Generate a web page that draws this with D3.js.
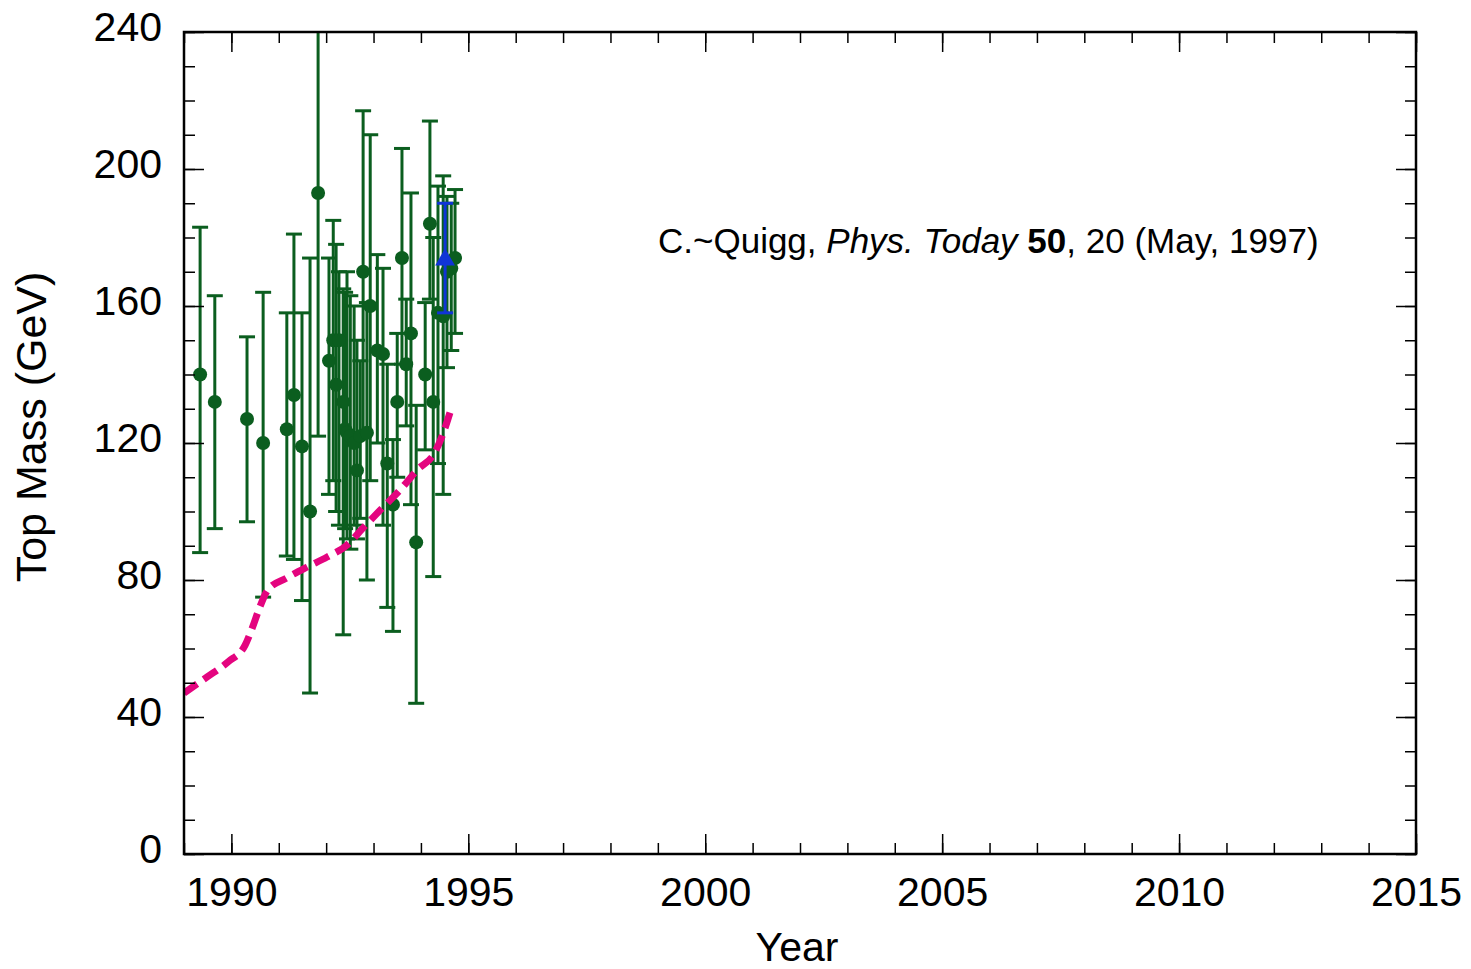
<!DOCTYPE html>
<html>
<head>
<meta charset="utf-8">
<script src="https://cdn.jsdelivr.net/npm/d3@7"></script>
<style>
  html, body { margin: 0; padding: 0; background: #fff; }
  svg { display: block; font-family: "Liberation Sans", Arial, Helvetica, sans-serif; }
</style>
</head>
<body>
<svg id="chart" width="1471" height="969"></svg>
<script>
// ---- data ----
const years  = [1989.34, 1989.65, 1990.33, 1990.67, 1991.17, 1991.32, 1991.49, 1991.66, 1991.83, 1992.06,
                1992.15, 1992.21, 1992.27, 1992.36, 1992.40, 1992.44, 1992.51, 1992.59, 1992.65, 1992.72,
                1992.78, 1992.86, 1992.93, 1993.08, 1993.20, 1993.29, 1993.41, 1993.50, 1993.60, 1993.69,
                1993.79, 1993.90, 1994.09, 1994.19, 1994.26, 1994.36, 1994.47, 1994.55, 1994.64, 1994.72];
const masses = [140, 132, 127, 120, 124, 134, 119, 100, 193, 144,
                150, 137, 150, 132, 124, 123, 122, 120, 112, 122,
                170, 123, 160, 147, 146, 114, 102, 132, 174, 143,
                152, 91, 140, 184, 132, 158, 157, 170, 171, 174];
const lows   = [88, 95, 97, 75, 87, 86, 74, 47, 122, 105,
                109, 100, 96, 64, 95, 92, 89, 96, 92, 98,
                123, 80, 109, 120, 96, 72, 65, 110, 143, 125,
                102, 44, 118, 162, 81, 114, 105, 142, 147, 152];
const highs  = [183, 163, 151, 164, 158, 181, 158, 174, 250, 174,
                185, 178, 170, 165, 164, 170, 163, 160, 150, 144,
                217, 161, 210, 175, 171, 143, 121, 152, 206, 162,
                193, 131, 161, 214, 180, 195, 198, 192, 190, 194];

// Tevatron measurement (blue)
const tevYear = [1994.51];
const tevMass = [173.5];
const tevLow  = [158];
const tevHigh = [190];

// indirect lower bound curve (magenta dashed)
const boundYears = [1989.0, 1989.49, 1989.93, 1990.29, 1990.44, 1990.60, 1990.77, 1991.17, 1991.60,
                    1992.02, 1992.44, 1992.78, 1993.14, 1993.56, 1993.92, 1994.30, 1994.47, 1994.66];
const boundMass  = [47.0, 51.7, 56.1, 61.0, 66.0, 72.1, 77.1, 80.6, 83.8,
                    86.7, 90.2, 95.2, 100.4, 106.3, 112.1, 117.4, 122.9, 131];

const xMajorTicks = [1990, 1995, 2000, 2005, 2010, 2015];
const yMajorTicks = [0, 40, 80, 120, 160, 200, 240];

// ---- layout ----
const L = 184, R = 1416, T = 32, B = 854;
const svg = d3.select("#chart");
const x = d3.scaleLinear().domain([1989, 2015]).range([L, R]);
const y = d3.scaleLinear().domain([0, 240]).range([B, T]);

const green = "#0b5e1f", magenta = "#e4047f", blue = "#1034d6";

svg.append("defs").append("clipPath").attr("id", "clip")
  .append("rect").attr("x", L).attr("y", T).attr("width", R - L).attr("height", B - T);

const plot = svg.append("g").attr("clip-path", "url(#clip)");

// green error bars
const pts = years.map((yr, i) => ({yr, m: masses[i], lo: lows[i], hi: highs[i]}));
const eb = plot.append("g").attr("stroke", green).attr("stroke-width", 3);
pts.forEach(d => {
  eb.append("line").attr("x1", x(d.yr)).attr("x2", x(d.yr)).attr("y1", y(d.lo)).attr("y2", y(d.hi));
  eb.append("line").attr("x1", x(d.yr) - 8).attr("x2", x(d.yr) + 8).attr("y1", y(d.lo)).attr("y2", y(d.lo));
  eb.append("line").attr("x1", x(d.yr) - 8).attr("x2", x(d.yr) + 8).attr("y1", y(d.hi)).attr("y2", y(d.hi));
});
plot.append("g").selectAll("circle").data(pts).join("circle")
  .attr("cx", d => x(d.yr)).attr("cy", d => y(d.m)).attr("r", 7).attr("fill", green);

// magenta dashed bound
const line = d3.line().x(d => x(d[0])).y(d => y(d[1])).curve(d3.curveMonotoneX);
plot.append("path").datum(boundYears.map((yr, i) => [yr, boundMass[i]]))
  .attr("d", line).attr("fill", "none").attr("stroke", magenta)
  .attr("stroke-width", 7).attr("stroke-dasharray", "16,8");

// blue measurement
const tb = plot.append("g").attr("stroke", blue).attr("stroke-width", 3);
tevYear.forEach((yr, i) => {
  tb.append("line").attr("x1", x(yr)).attr("x2", x(yr)).attr("y1", y(tevLow[i])).attr("y2", y(tevHigh[i]));
  tb.append("line").attr("x1", x(yr) - 8).attr("x2", x(yr) + 8).attr("y1", y(tevLow[i])).attr("y2", y(tevLow[i]));
  tb.append("line").attr("x1", x(yr) - 8).attr("x2", x(yr) + 8).attr("y1", y(tevHigh[i])).attr("y2", y(tevHigh[i]));
  plot.append("path").attr("d", d3.symbol(d3.symbolTriangle, 170)())
    .attr("transform", `translate(${x(yr)},${y(tevMass[i])})`).attr("fill", blue);
});

// ---- axes (inward ticks on all sides) ----
const xMinor = d3.range(1989, 2016, 1);
const yMinor = d3.range(0, 241, 10);
function styleAxis(g) {
  g.select(".domain").remove();
  g.selectAll(".tick line").attr("stroke", "#000").attr("stroke-width", 1.5);
}
const labelFont = g => g.selectAll("text").attr("font-size", 41).attr("fill", "#000")
      .attr("font-family", "'Liberation Sans', Arial, sans-serif");
svg.append("g").attr("transform", `translate(0,${B})`)
  .call(d3.axisBottom(x).tickValues(xMinor).tickSize(-11).tickFormat(""))
  .call(styleAxis);
svg.append("g").attr("transform", `translate(0,${B})`)
  .call(d3.axisBottom(x).tickValues(xMajorTicks).tickSize(-20).tickPadding(23).tickFormat(d3.format("d")))
  .call(styleAxis).call(labelFont);
svg.append("g").attr("transform", `translate(0,${T})`)
  .call(d3.axisTop(x).tickValues(xMinor).tickSize(-11).tickFormat("")).call(styleAxis);
svg.append("g").attr("transform", `translate(0,${T})`)
  .call(d3.axisTop(x).tickValues(xMajorTicks).tickSize(-20).tickFormat("")).call(styleAxis);

svg.append("g").attr("transform", `translate(${L},0)`)
  .call(d3.axisLeft(y).tickValues(yMinor).tickSize(-11).tickFormat("")).call(styleAxis);
svg.append("g").attr("transform", `translate(${L},0)`)
  .call(d3.axisLeft(y).tickValues(yMajorTicks).tickSize(-20).tickPadding(22).tickFormat(d3.format("d")))
  .call(styleAxis).call(labelFont)
  .call(g => g.selectAll("text").attr("dy", "0.2em"));
svg.append("g").attr("transform", `translate(${R},0)`)
  .call(d3.axisRight(y).tickValues(yMinor).tickSize(-11).tickFormat("")).call(styleAxis);
svg.append("g").attr("transform", `translate(${R},0)`)
  .call(d3.axisRight(y).tickValues(yMajorTicks).tickSize(-20).tickFormat("")).call(styleAxis);

// frame
svg.append("rect").attr("x", L).attr("y", T).attr("width", R - L).attr("height", B - T)
  .attr("fill", "none").attr("stroke", "#000").attr("stroke-width", 2.5);

// axis titles
svg.append("text").attr("x", 797).attr("y", 961).attr("text-anchor", "middle")
  .attr("font-size", 41).text("Year");
svg.append("text").attr("transform", `translate(46,${427}) rotate(-90)`)
  .attr("text-anchor", "middle").attr("font-size", 43).text("Top Mass (GeV)");

// annotation
const ann = svg.append("text").attr("x", 658).attr("y", 253).attr("font-size", 35);
ann.append("tspan").text("C.~Quigg, ");
ann.append("tspan").attr("font-style", "italic").text("Phys. Today");
ann.append("tspan").text(" ");
ann.append("tspan").attr("font-weight", "bold").text("50");
ann.append("tspan").text(", 20 (May, 1997)");
</script>
</body>
</html>
